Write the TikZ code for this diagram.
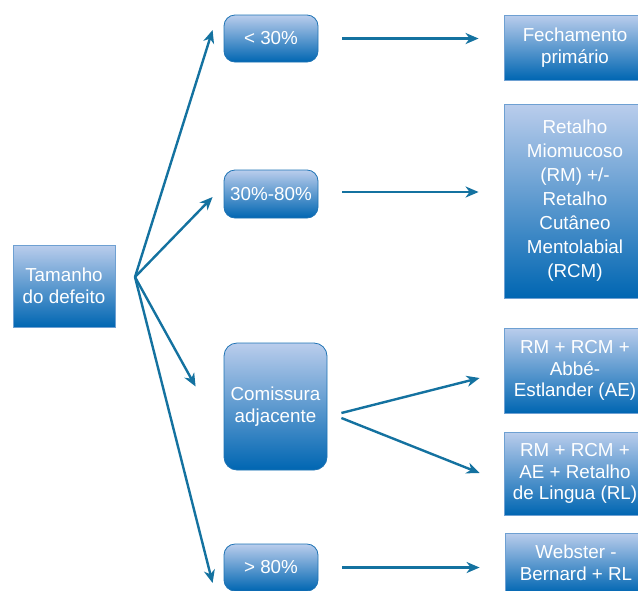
\documentclass[tikz,border=0pt]{standalone}
\usepackage{fontspec}
\setmainfont{Liberation Sans}
\usetikzlibrary{arrows.meta}
\definecolor{topblue}{RGB}{186,205,236}
\definecolor{botblue}{RGB}{0,102,178}
\definecolor{edgeblue}{RGB}{110,160,210}
\definecolor{redge}{RGB}{30,115,180}
\definecolor{arrowblue}{RGB}{20,114,160}
\tikzset{
  box/.style={draw=edgeblue, line width=0.8pt, top color=topblue, bottom color=botblue,
    text=white, align=center, inner sep=0pt, font=\fontsize{18.8}{21.5}\selectfont},
  rbox/.style={box, draw=redge, rounded corners=11pt},
  arr/.style={draw=arrowblue, line width=2.4pt, -{Stealth[length=13pt,width=11pt,inset=4pt]}},
}
\begin{document}
\begin{tikzpicture}[x=1pt,y=-1pt]
\useasboundingbox (0,0) rectangle (638,590);
\clip (0,0) rectangle (638,590);
\node[box, minimum width=102pt, minimum height=82pt] (tam) at (64,286) {Tamanho\\do defeito};
\node[rbox, minimum width=94pt, minimum height=47pt] (lt30) at (271,38.5) {< 30\%};
\node[rbox, minimum width=94pt, minimum height=48pt] (mid) at (271,194) {30\%-80\%};
\node[rbox, minimum width=103pt, minimum height=127pt, rounded corners=13pt] (com) at (275.5,406.5) {Comissura\\adjacente};
\node[rbox, minimum width=94pt, minimum height=47pt] (gt80) at (271,567.5) {> 80\%};
\node[box, minimum width=142pt, minimum height=65pt] (fech) at (575,47.5) {Fechamento\\primário};
\node[box, minimum width=142pt, minimum height=194pt, font=\fontsize{18.8}{24}\selectfont] (ret) at (575,201) {Retalho\\Miomucoso\\(RM) +/-\\Retalho\\Cutâneo\\Mentolabial\\(RCM)};
\node[box, minimum width=142pt, minimum height=85pt] (abbe) at (575,370.5) {RM + RCM +\\Abbé-\\Estlander (AE)};
\node[box, minimum width=142pt, minimum height=83pt] (rl) at (575,473.5) {RM + RCM +\\AE + Retalho\\de Lingua (RL)};
\node[box, minimum width=142pt, minimum height=60pt] (web) at (576,563) {Webster -\\Bernard + RL};
\coordinate (fan) at (135,277);
\draw[arr] (fan) -- ([xshift=-11pt,yshift=8.5pt]lt30.west);
\draw[arr] (fan) -- ([xshift=-11pt,yshift=-3pt]mid.west);
\draw[arr] (fan) -- ([xshift=-28pt,yshift=20pt]com.west);
\draw[arr] (fan) -- ([xshift=-11pt,yshift=-15.5pt]gt80.west);
\draw[arr] ([xshift=24pt]lt30.east) -- ([xshift=-25pt]lt30.east -| fech.west);
\draw[arr] ([xshift=24pt,yshift=2pt]mid.east) -- ([xshift=-25pt,yshift=2pt]mid.east -| ret.west);
\draw[arr] ([xshift=14pt,yshift=-6.5pt]com.east) -- ([xshift=-24pt,yshift=-7.5pt]abbe.west);
\draw[arr] ([xshift=14pt,yshift=-11.5pt]com.east) -- ([xshift=-24pt,yshift=0.5pt]rl.west);
\draw[arr] ([xshift=24pt]gt80.east) -- ([xshift=-25pt]gt80.east -| web.west);
\end{tikzpicture}
\end{document}
